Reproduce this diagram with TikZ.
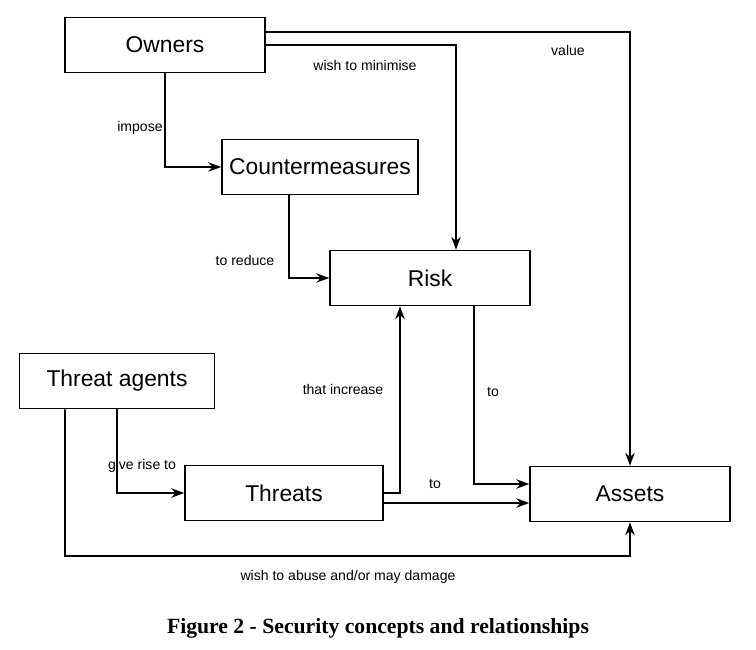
\documentclass[tikz,border=0pt]{standalone}
\usepackage{fontspec}
\setmainfont{Liberation Sans}
\newfontfamily\capfont{Liberation Serif}
\usetikzlibrary{arrows.meta}

\tikzset{
    concept/.style={draw, line width=1.3pt, minimum width=6cm, minimum height=1.65cm, font=\fontsize{19.5}{22}\selectfont},
    rel/.style={-{Stealth[length=11pt,width=8pt]}, line width=1.3pt},
    lbl/.style={font=\fontsize{12}{14}\selectfont}
}

\begin{document}
\begin{tikzpicture}[x=0.03cm, y=-0.03cm]
    \useasboundingbox (0,0) rectangle (756,650);
    \node[concept] (own) at (165,45) {Owners};
    \node[concept, minimum width=5.88cm] (cm) at (320,167) {Countermeasures};
    \node[concept] (risk) at (430,278) {Risk};
    \node[concept, minimum width=5.85cm] (ta) at (117,381) {Threat agents};
    \node[concept, minimum width=5.94cm] (thr) at (284,493) {Threats};
    \node[concept] (ast) at (630,494) {Assets};
    \coordinate (bottom) at (65,556);

    \draw[rel] (own.south) |- (cm.west);
    \draw[rel] (own.east) -| ([xshift=0.78cm]risk.north);
    \draw[rel] ([yshift=0.39cm]own.east) -| (ast.north);
    \draw[rel] ([xshift=-0.93cm]cm.south) |- (risk.west);
    \draw[rel] (ta.south) |- (thr.west);
    \draw[rel] (thr.east) -| ([xshift=-0.9cm]risk.south);
    \draw[rel] ([yshift=-0.3cm]thr.east) coordinate (t) -- (t -| ast.west);
    \draw[rel] ([xshift=1.32cm]risk.south) |- ([yshift=0.3cm]ast.west);
    \draw[rel] ([xshift=-1.56cm]ta.south) -- (bottom) -| (ast.south);

    \node[lbl] (l1) at (140,128) {impose};
    \node[lbl] (l2) at (365,65) {wish to minimise};
    \node[lbl] (l3) at (568,50) {value};
    \node[lbl] (l4) at (245,260) {to reduce};
    \node[lbl] (l5) at (142,466) {give rise to};
    \node[lbl] (l6) at (343,389) {that increase};
    \node[lbl] (l7) at (435,484) {to};
    \node[lbl] (l8) at (493,392) {to};
    \node[lbl] (l9) at (348,577) {wish to abuse and/or may damage};
    \node[font=\capfont\bfseries\fontsize{18.5}{21}\selectfont] (cap) at (378,628) {Figure 2 - Security concepts and relationships};
\end{tikzpicture}
\end{document}
